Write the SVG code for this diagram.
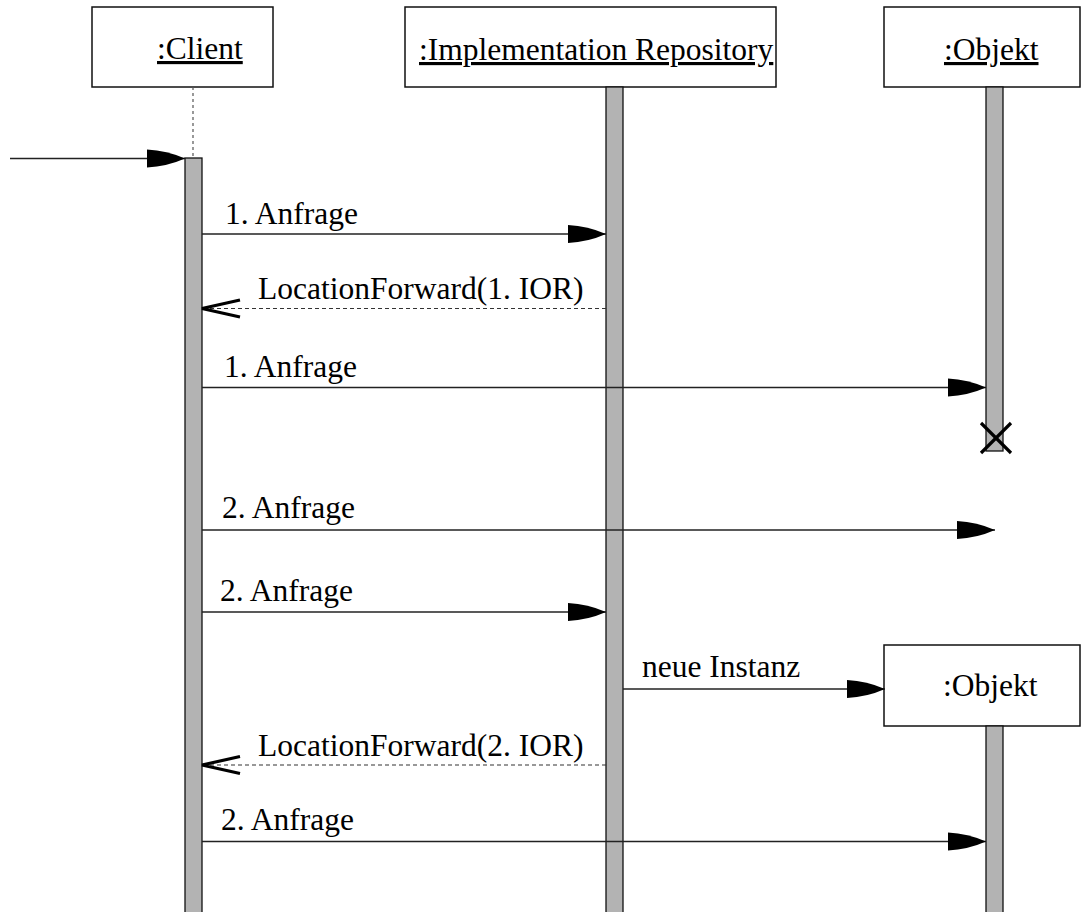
<svg xmlns="http://www.w3.org/2000/svg" width="1086" height="912" viewBox="0 0 1086 912">
<style>
.box{fill:#fff;stroke:#111;stroke-width:1.5}
.bar{fill:#b3b3b3;stroke:#111;stroke-width:1.3}
.t{font-family:"Liberation Serif","Times New Roman",serif;font-size:31.5px;fill:#000}
.u{text-decoration:underline}
.msg{stroke:#222;stroke-width:1.3;fill:none;marker-end:url(#fill)}
.ret{stroke:#333;stroke-width:1.2;stroke-dasharray:4 3;fill:none;marker-end:url(#open)}
.life{stroke:#555;stroke-width:1.2;stroke-dasharray:3 3}
.x{stroke:#000;stroke-width:3.2}
</style>
<defs>
<marker id="fill" markerUnits="userSpaceOnUse" markerWidth="40" markerHeight="22" refX="38" refY="10" orient="auto">
<path d="M0,1 Q20,2 38,10 Q20,18 0,19 Z" fill="#000"/>
</marker>
<marker id="open" markerUnits="userSpaceOnUse" markerWidth="42" markerHeight="24" refX="39" refY="10.5" orient="auto">
<path d="M1,2 L39,10.5 L1,19" fill="none" stroke="#000" stroke-width="3.2"/>
</marker>
</defs>
<rect width="1086" height="912" fill="#fff"/>

<g id="client">
<rect class="box" x="92" y="7" width="181" height="80"/>
<line class="life" x1="193" y1="87" x2="193" y2="158"/>
<rect class="bar" x="185" y="158" width="17" height="770"/>
<text class="t u" x="157" y="59">:Client</text>
</g>

<g id="repository">
<rect class="box" x="405" y="7" width="371" height="80"/>
<rect class="bar" x="606" y="87" width="17" height="840"/>
<text class="t u" x="419" y="60">:Implementation Repository</text>
</g>

<g id="objekt1">
<rect class="box" x="884" y="7" width="196" height="80"/>
<rect class="bar" x="986" y="87" width="17" height="364"/>
<line class="x" x1="981" y1="423" x2="1011" y2="453"/>
<line class="x" x1="1011" y1="423" x2="981" y2="453"/>
<text class="t u" x="944" y="60">:Objekt</text>
</g>

<g id="objekt2">
<rect class="box" x="884" y="645" width="196" height="81"/>
<rect class="bar" x="986" y="726" width="17" height="200"/>
<text class="t" x="943" y="696">:Objekt</text>
</g>

<g id="connectors">
<line class="msg" x1="10" y1="158.5" x2="185" y2="158.5"/>
<line class="msg" x1="202" y1="234" x2="606" y2="234"/>
<line class="ret" x1="606" y1="308.5" x2="202" y2="308.5"/>
<line class="msg" x1="202" y1="387.5" x2="986" y2="387.5"/>
<line class="msg" x1="202" y1="530" x2="995" y2="530"/>
<line class="msg" x1="202" y1="612" x2="606" y2="612"/>
<line class="msg" x1="623" y1="689" x2="885" y2="689"/>
<line class="ret" x1="606" y1="765" x2="202" y2="765"/>
<line class="msg" x1="202" y1="841.5" x2="986" y2="841.5"/>
</g>

<g id="labels">
<text class="t" x="225" y="224">1. Anfrage</text>
<text class="t" x="258" y="299">LocationForward(1. IOR)</text>
<text class="t" x="224" y="377">1. Anfrage</text>
<text class="t" x="222" y="518">2. Anfrage</text>
<text class="t" x="220" y="601">2. Anfrage</text>
<text class="t" x="642" y="677">neue Instanz</text>
<text class="t" x="258" y="756">LocationForward(2. IOR)</text>
<text class="t" x="221" y="830">2. Anfrage</text>
</g>
</svg>
